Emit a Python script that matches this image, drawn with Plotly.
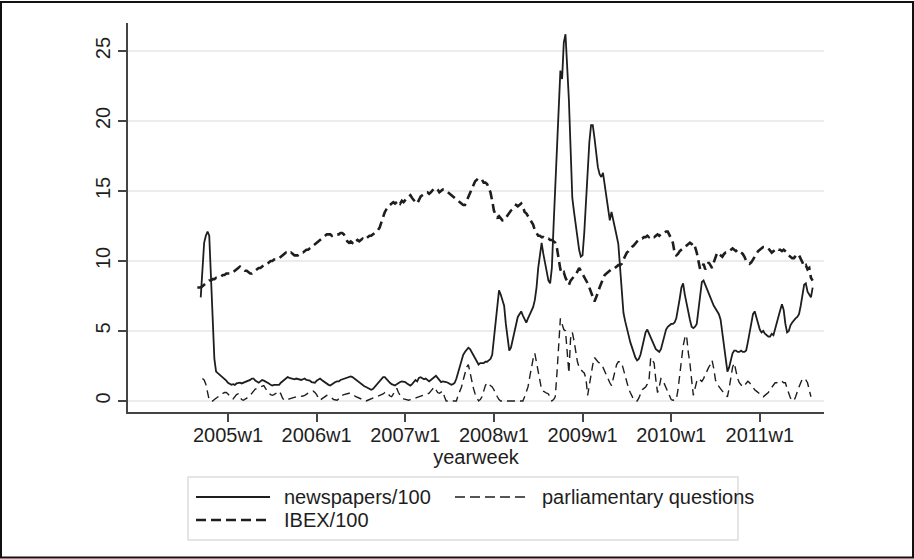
import plotly.graph_objects as go

# Weeks counted from 2005w1 (Stata-style 52-week years); series run 2004w35 .. 2011w31
weeks = list(range(-18, 344))

tick_weeks = [0, 52, 104, 156, 208, 260, 312]
tick_labels = ["2005w1", "2006w1", "2007w1", "2008w1", "2009w1", "2010w1", "2011w1"]
y_ticks = [0, 5, 10, 15, 20, 25]

# newspapers/100
newspapers = (
    # 2004
    [None, None, 7.4, 9.5, 11.3, 11.8, 12.1, 11.8, 8.5, 5.5, 3.0, 2.1, 2.0, 1.9, 1.8, 1.7, 1.55, 1.45]
    # 2005
    + [1.3, 1.2, 1.15, 1.2, 1.15, 1.25, 1.3, 1.3, 1.25, 1.3, 1.3, 1.35, 1.4, 1.5, 1.6, 1.6, 1.45, 1.35,
       1.3, 1.4, 1.5, 1.45, 1.4, 1.35, 1.25, 1.15, 1.1, 1.15, 1.15, 1.2, 1.15, 1.3, 1.4, 1.5, 1.6, 1.7,
       1.65, 1.6, 1.55, 1.55, 1.6, 1.55, 1.55, 1.5, 1.55, 1.6, 1.5, 1.5, 1.45, 1.35, 1.3, 1.3]
    # 2006
    + [1.45, 1.55, 1.6, 1.5, 1.4, 1.3, 1.2, 1.15, 1.1, 1.2, 1.3, 1.35, 1.4, 1.4, 1.5, 1.55, 1.6, 1.65,
       1.7, 1.75, 1.75, 1.7, 1.6, 1.5, 1.4, 1.35, 1.25, 1.15, 1.05, 1.0, 0.95, 0.85, 0.8, 0.85, 1.0, 1.15,
       1.3, 1.45, 1.6, 1.7, 1.7, 1.55, 1.4, 1.3, 1.2, 1.15, 1.1, 1.2, 1.3, 1.35, 1.4, 1.4]
    # 2007
    + [1.35, 1.25, 1.15, 1.1, 1.2, 1.35, 1.5, 1.4, 1.65, 1.7, 1.6, 1.55, 1.6, 1.5, 1.4, 1.5, 1.6, 1.7,
       1.8, 1.65, 1.5, 1.35, 1.4, 1.4, 1.35, 1.3, 1.2, 1.15, 1.2, 1.3, 1.6, 2.0, 2.4, 2.9, 3.3, 3.5,
       3.7, 3.8, 3.7, 3.5, 3.2, 3.0, 2.8, 2.6, 2.7, 2.7, 2.7, 2.8, 2.8, 2.9, 3.0, 3.3]
    # 2008
    + [4.5, 6.0, 7.2, 7.9, 7.6, 7.2, 6.8, 5.5, 4.4, 3.6, 3.8, 4.4, 5.0, 5.6, 6.0, 6.2, 6.4, 6.1,
       5.8, 5.6, 5.9, 6.2, 6.4, 6.7, 7.2, 8.1, 9.5, 10.6, 11.3, 10.5, 9.8, 9.4, 8.6, 8.4, 9.5, 12.5,
       15.5, 17.7, 21.0, 23.6, 23.0, 25.6, 26.2, 24.0, 21.5, 18.0, 14.5, 13.5, 12.6, 11.5, 10.8, 10.3]
    # 2009
    + [10.4, 12.0, 14.4, 16.5, 18.5, 19.7, 19.7, 18.8, 17.5, 16.7, 16.2, 16.0, 16.3, 15.5, 14.5, 13.7, 12.9, 13.5,
       13.0, 12.4, 11.8, 11.2, 9.5, 7.5, 6.3, 5.7, 5.1, 4.7, 4.2, 3.8, 3.4, 3.1, 2.9, 3.0, 3.3, 3.8,
       4.4, 4.9, 5.1, 4.8, 4.5, 4.2, 3.9, 3.7, 3.6, 3.5, 3.7, 4.2, 4.7, 5.1, 5.3, 5.4]
    # 2010
    + [5.5, 5.5, 5.6, 5.9, 6.5, 7.3, 8.1, 8.4, 7.6, 6.9, 6.4, 5.8, 5.3, 5.2, 5.3, 5.5, 6.5, 7.6,
       8.5, 8.6, 8.3, 7.9, 7.6, 7.4, 7.0, 6.8, 6.6, 6.4, 6.2, 5.8, 4.8, 3.8, 2.8, 2.1, 2.4, 3.0,
       3.4, 3.6, 3.6, 3.5, 3.5, 3.6, 3.5, 3.5, 3.6, 4.2, 4.9, 5.7, 6.2, 6.4, 6.0, 5.5]
    # 2011
    + [5.1, 4.9, 5.0, 4.8, 4.7, 4.6, 4.6, 4.8, 4.7, 5.2, 5.6, 6.0, 6.5, 6.9, 6.5, 5.5, 4.9, 5.0,
       5.4, 5.6, 5.8, 5.9, 6.0, 6.2, 6.8, 7.6, 8.3, 8.4, 7.8, 7.6, 7.4, 8.1]
)

# IBEX/100
ibex = (
    # 2004
    [8.1, 8.1, 8.1, 8.2, 8.3, 8.4, 8.5, 8.6, 8.6, 8.7, 8.7, 8.8, 8.8, 8.9, 8.9, 9.0, 9.0, 9.1]
    # 2005
    + [9.1, 9.1, 9.2, 9.2, 9.3, 9.4, 9.5, 9.6, 9.5, 9.4, 9.3, 9.3, 9.2, 9.1, 9.1, 9.2, 9.3, 9.4,
       9.5, 9.5, 9.6, 9.7, 9.7, 9.8, 9.9, 10.0, 10.0, 10.1, 10.1, 10.2, 10.2, 10.3, 10.4, 10.5, 10.6, 10.6,
       10.5, 10.6, 10.5, 10.4, 10.4, 10.4, 10.5, 10.6, 10.6, 10.7, 10.8, 10.8, 10.9, 11.0, 11.1, 11.2]
    # 2006
    + [11.3, 11.4, 11.5, 11.6, 11.7, 11.8, 11.9, 11.9, 11.9, 11.8, 11.9, 11.9, 11.9, 11.9, 12.0, 12.0, 11.9, 11.6,
       11.4, 11.3, 11.4, 11.3, 11.5, 11.4, 11.5, 11.4, 11.5, 11.6, 11.5, 11.6, 11.7, 11.8, 11.8, 11.9, 12.0, 12.1,
       12.2, 12.4, 12.8, 13.2, 13.5, 13.7, 13.9, 14.0, 14.1, 14.2, 14.1, 14.2, 14.3, 14.1, 14.3, 14.2]
    # 2007
    + [14.4, 14.5, 14.6, 14.7, 14.5, 14.3, 14.2, 14.1, 14.4, 14.6, 14.7, 14.8, 14.9, 14.9, 14.8, 14.9, 15.1, 15.2,
       15.2, 15.1, 14.9, 15.0, 15.1, 15.1, 15.0, 14.9, 14.8, 14.7, 14.6, 14.5, 14.4, 14.3, 14.2, 14.1, 14.0, 14.0,
       14.3, 14.6, 14.8, 15.1, 15.4, 15.7, 15.8, 15.7, 15.8, 15.8, 15.6, 15.6, 15.5, 15.2, 14.9, 14.3]
    # 2008
    + [13.6, 13.3, 13.1, 13.2, 13.0, 12.9, 12.9, 13.1, 13.3, 13.4, 13.6, 13.7, 13.8, 14.0, 13.9, 14.0, 14.1, 13.9,
       13.5, 13.4, 13.2, 13.0, 12.9, 12.6, 12.2, 12.0, 11.8, 11.8, 11.7, 11.7, 11.6, 11.6, 11.6, 11.5, 11.5, 11.4,
       11.3, 10.9, 10.0, 9.4, 9.1, 9.2, 8.8, 8.6, 8.3, 8.6, 8.8, 8.9, 9.0, 9.2, 9.5, 9.3]
    # 2009
    + [9.1, 8.8, 8.6, 8.4, 8.1, 7.8, 7.4, 7.1, 7.4, 7.8, 8.1, 8.4, 8.7, 9.0, 9.1, 9.2, 9.3, 9.4,
       9.4, 9.5, 9.6, 9.7, 9.7, 9.8, 10.1, 10.4, 10.6, 10.7, 10.9, 11.0, 11.1, 11.3, 11.4, 11.5, 11.6, 11.6,
       11.7, 11.7, 11.8, 11.7, 11.8, 11.7, 11.7, 11.8, 11.9, 11.8, 11.9, 12.0, 12.0, 12.1, 12.1, 11.9]
    # 2010
    + [11.6, 11.3, 10.6, 10.4, 10.5, 10.7, 10.8, 10.9, 11.0, 11.1, 11.2, 11.3, 11.2, 11.3, 11.0, 10.6, 10.0, 9.4,
       9.5, 9.8, 9.4, 9.7, 9.9, 9.7, 9.5, 9.9, 10.3, 10.6, 10.5, 10.4, 10.3, 10.5, 10.6, 10.6, 10.7, 10.8,
       10.9, 10.8, 10.7, 10.8, 10.7, 10.6, 10.5, 10.3, 10.0, 9.9, 9.8, 9.9, 10.1, 10.4, 10.6, 10.7]
    # 2011
    + [10.8, 10.9, 11.0, 11.0, 11.0, 10.9, 10.7, 10.6, 10.7, 10.8, 10.9, 10.8, 10.8, 10.7, 10.8, 10.7, 10.6, 10.4,
       10.3, 10.2, 10.2, 10.4, 10.5, 10.4, 10.2, 9.9, 9.6, 9.7, 9.4, 9.5, 8.8, 8.6]
)

# parliamentary questions
questions = (
    # 2004
    [None, None, None, 1.6, 1.5, 1.2, 0.5, 0.05, 0.0, 0.0, 0.1, 0.2, 0.3, 0.35, 0.5, 0.55, 0.6, 0.6]
    # 2005
    + [0.5, 0.35, 0.2, 0.15, 0.3, 0.45, 0.5, 0.3, 0.1, 0.05, 0.1, 0.2, 0.3, 0.4, 0.55, 0.7, 0.85, 0.9,
       0.95, 1.0, 1.0, 1.1, 0.9, 0.7, 0.55, 0.45, 0.4, 0.45, 0.55, 0.65, 0.7, 0.5, 0.2, 0.05, 0.05, 0.1,
       0.15, 0.2, 0.2, 0.25, 0.3, 0.3, 0.3, 0.3, 0.35, 0.4, 0.5, 0.55, 0.6, 0.65, 0.7, 0.6]
    # 2006
    + [0.45, 0.2, 0.05, 0.15, 0.25, 0.35, 0.4, 0.35, 0.3, 0.2, 0.1, 0.05, 0.05, 0.15, 0.3, 0.4, 0.45, 0.5,
       0.5, 0.55, 0.55, 0.5, 0.4, 0.3, 0.25, 0.2, 0.15, 0.1, 0.05, 0.0, 0.05, 0.1, 0.15, 0.2, 0.2, 0.25,
       0.3, 0.35, 0.4, 0.5, 0.6, 0.65, 0.5, 0.35, 0.3, 0.5, 0.75, 0.9, 0.6, 0.35, 0.2, 0.15]
    # 2007
    + [0.1, 0.07, 0.05, 0.1, 0.12, 0.15, 0.2, 0.25, 0.3, 0.35, 0.4, 0.45, 0.5, 0.5, 0.55, 0.7, 0.9, 1.0,
       0.8, 0.6, 0.55, 0.65, 0.7, 0.3, 0.0, 0.0, 0.0, 0.0, 0.0, 0.0, 0.0, 0.4, 0.7, 1.0, 1.5, 2.0,
       2.4, 2.6, 2.0, 1.5, 0.9, 0.5, 0.2, 0.0, 0.1, 0.3, 0.7, 1.1, 1.3, 1.2, 1.1, 1.0]
    # 2008
    + [0.8, 0.5, 0.3, 0.1, 0.0, 0.0, 0.0, 0.0, 0.0, 0.0, 0.0, 0.0, 0.0, 0.0, 0.0, 0.0, 0.0, 0.0,
       0.3, 0.6, 1.0, 1.7, 2.4, 3.0, 3.4, 2.8, 2.2, 1.5, 0.8, 0.7, 0.6, 0.55, 0.5, 0.2, 0.0, 0.1,
       0.3, 2.0, 4.0, 5.9, 5.5, 5.1, 5.0, 3.5, 2.0, 4.5, 4.9, 4.3, 3.4, 2.8, 2.4, 2.2]
    # 2009
    + [2.1, 2.0, 1.6, 0.4, 1.2, 1.8, 2.6, 3.1, 2.9, 2.8, 2.7, 2.6, 2.4, 2.1, 1.9, 1.6, 1.3, 1.1,
       1.6, 2.1, 2.6, 2.8, 2.8, 2.7, 2.2, 1.7, 1.3, 0.9, 0.6, 0.3, 0.1, 0.0, 0.0, 0.2, 0.5, 0.8,
       0.9, 1.0, 1.2, 1.5, 3.1, 2.9, 2.7, 1.5, 0.6, 1.0, 1.6, 1.5, 1.2, 1.0, 0.7, 0.4]
    # 2010
    + [0.1, 0.05, 0.1, 0.1, 0.8, 1.9, 2.9, 3.9, 4.5, 4.7, 3.5, 2.7, 1.5, 0.4, 0.9, 1.4, 1.6, 1.5,
       1.4, 1.6, 1.9, 2.2, 2.4, 2.6, 2.9, 2.3, 1.5, 1.2, 1.0, 0.8, 0.7, 0.6, 0.4, 0.3, 0.9, 1.6,
       2.4, 2.7, 2.1, 1.6, 1.3, 1.1, 1.0, 1.1, 1.3, 1.4, 1.3, 1.1, 0.9, 0.8, 0.7, 0.6]
    # 2011
    + [0.5, 0.4, 0.3, 0.4, 0.5, 0.6, 0.8, 1.0, 1.2, 1.3, 1.3, 1.4, 1.4, 1.4, 1.3, 1.3, 0.9, 0.5,
       0.2, 0.1, 0.0, 0.3, 0.7, 1.0, 1.3, 1.6, 1.6, 1.5, 1.3, 0.8, 0.3, None]
)

assert len(newspapers) == len(weeks) == len(ibex) == len(questions)

W, H = 914, 559
L, R, T, B = 128, 90, 23, 147
PW, PH = W - L - R, H - T - B
FONT = "Liberation Sans, Arial, Helvetica, sans-serif"
INK = "#1e1e1e"


def px(xp):
    """Figure pixel column -> paper x."""
    return (xp - L) / PW


def py(yp):
    """Figure pixel row -> paper y."""
    return (H - B - yp) / PH


fig = go.Figure()

fig.add_trace(go.Scatter(x=weeks, y=newspapers, mode="lines", name="newspapers/100",
                         line=dict(color=INK, width=1.8), showlegend=False))
fig.add_trace(go.Scatter(x=weeks, y=questions, mode="lines", name="parliamentary questions",
                         line=dict(color=INK, width=1.4, dash="8px,5px"), showlegend=False))
fig.add_trace(go.Scatter(x=weeks, y=ibex, mode="lines", name="IBEX/100",
                         line=dict(color=INK, width=2.6, dash="9px,5px"), showlegend=False))

shapes = [
    # outer frame
    dict(type="rect", xref="paper", yref="paper", x0=px(1), x1=px(913), y0=py(557.5), y1=py(2),
         line=dict(color="#111", width=2), fillcolor="rgba(0,0,0,0)", layer="above"),
    # legend box
    dict(type="rect", xref="paper", yref="paper", x0=px(188), x1=px(738), y0=py(540), y1=py(477),
         line=dict(color="#dddddd", width=1.5), fillcolor="white", layer="below"),
    # legend keys
    dict(type="line", xref="paper", yref="paper", x0=px(196), x1=px(270), y0=py(497), y1=py(497),
         line=dict(color=INK, width=1.8)),
    dict(type="line", xref="paper", yref="paper", x0=px(455), x1=px(528), y0=py(497), y1=py(497),
         line=dict(color=INK, width=1.4, dash="10px,5px")),
    dict(type="line", xref="paper", yref="paper", x0=px(196), x1=px(270), y0=py(520), y1=py(520),
         line=dict(color=INK, width=2.6, dash="10px,5px")),
]

legend_text = [("newspapers/100", 282, 497), ("parliamentary questions", 540, 497), ("IBEX/100", 282, 520)]
annotations = [
    dict(text=t, xref="paper", yref="paper", x=px(xp), y=py(yp), xanchor="left", yanchor="middle",
         showarrow=False, font=dict(family=FONT, size=20, color=INK))
    for t, xp, yp in legend_text
]

fig.update_layout(
    width=W, height=H,
    margin=dict(l=L, r=R, t=T, b=B, pad=0),
    paper_bgcolor="white", plot_bgcolor="white",
    font=dict(family=FONT, size=20, color=INK),
    shapes=shapes, annotations=annotations,
    showlegend=False,
)

fig.update_xaxes(
    range=[-58.67, 349.66], tickvals=tick_weeks, ticktext=tick_labels,
    ticks="outside", ticklen=8, tickwidth=1.5, tickcolor="#444",
    showline=True, linecolor="#444", linewidth=1.5,
    showgrid=False, zeroline=False, ticklabelstandoff=-4,
    tickfont=dict(family=FONT, size=20, color=INK),
    title=dict(text="yearweek", font=dict(family=FONT, size=20, color=INK), standoff=0),
)
fig.update_yaxes(
    range=[-0.79, 27.0], tickvals=y_ticks, tickangle=-90,
    ticks="outside", ticklen=8, tickwidth=1.5, tickcolor="#444",
    showline=True, linecolor="#444", linewidth=1.5,
    showgrid=True, gridcolor="#ececec", gridwidth=1.5, zeroline=False,
    tickfont=dict(family=FONT, size=20, color=INK),
)

fig.write_html("out.html")
